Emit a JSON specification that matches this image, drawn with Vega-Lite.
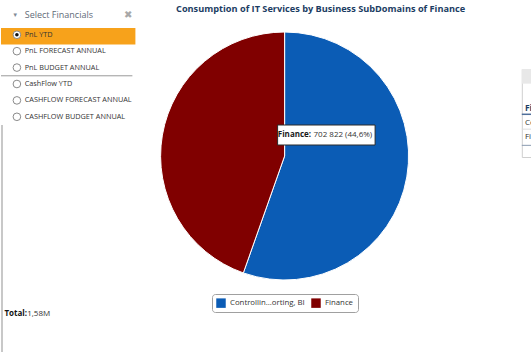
{
  "$schema": "https://vega.github.io/schema/vega-lite/v6.json",
  "padding": 0,
  "background": "#ffffff",
  "config": {"view": {"stroke": null}, "font": "Open Sans", "legend": {"layout": {"bottom": {"anchor": "middle"}}}},
  "datasets": {
    "slices": [
      {"domain": "Controlling, Reporting, BI", "value": 873012},
      {"domain": "Finance", "value": 702822}
    ],
    "menu": [
      {"item": "Select Financials", "kind": "header", "selected": false},
      {"item": "PnL YTD", "kind": "option", "selected": true},
      {"item": "PnL FORECAST ANNUAL", "kind": "option", "selected": false},
      {"item": "PnL BUDGET ANNUAL", "kind": "option", "selected": false},
      {"item": "CashFlow YTD", "kind": "option", "selected": false},
      {"item": "CASHFLOW FORECAST ANNUAL", "kind": "option", "selected": false},
      {"item": "CASHFLOW BUDGET ANNUAL", "kind": "option", "selected": false}
    ],
    "table": [
      {"row": "bar", "label": "", "kind": "bar"},
      {"row": "blank", "label": "", "kind": "blank"},
      {"row": "head", "label": "Finance", "kind": "head"},
      {"row": "r1", "label": "Controlling, Reporting, BI", "kind": "cell"},
      {"row": "r2", "label": "Finance", "kind": "cell"},
      {"row": "end", "label": "", "kind": "end"}
    ]
  },
  "spacing": 0,
  "resolve": {"scale": {"color": "independent"}, "legend": {"color": "independent"}},
  "hconcat": [
    {
      "spacing": 0,
      "resolve": {"scale": {"color": "independent"}, "legend": {"color": "independent"}},
      "vconcat": [
        {
          "width": 134.4,
          "height": 125,
          "data": {"name": "menu"},
          "encoding": {
            "y": {"field": "item", "type": "nominal", "axis": null,
                  "scale": {"domain": ["Select Financials", "PnL YTD", "PnL FORECAST ANNUAL", "PnL BUDGET ANNUAL", "CashFlow YTD", "CASHFLOW FORECAST ANNUAL", "CASHFLOW BUDGET ANNUAL"], "paddingInner": 0, "paddingOuter": 0.31, "align": 1}}
          },
          "layer": [
            {"transform": [{"filter": "datum.selected"}], "mark": {"type": "rect", "fill": "#f7a21b", "xOffset": 0, "x2Offset": 9.1, "yOffset": 1.5, "y2Offset": -1.5}},
            {"transform": [{"filter": "datum.item == 'CashFlow YTD'"}], "mark": {"type": "rule", "stroke": "#9a9a9a", "strokeWidth": 1, "xOffset": -3, "x2Offset": 7.4}, "encoding": {"y": {"field": "item", "type": "nominal", "bandPosition": 0}}},
            {"transform": [{"filter": "datum.kind == 'option'"}], "mark": {"type": "point", "shape": "circle", "size": 58, "filled": true, "fill": "#ffffff", "stroke": "#8a8a8a", "strokeWidth": 1, "opacity": 1, "xOffset": -51.3}},
            {"transform": [{"filter": "datum.selected"}], "mark": {"type": "point", "shape": "circle", "size": 13, "filled": true, "fill": "#111111", "opacity": 1, "xOffset": -51.3}},
            {"transform": [{"filter": "datum.kind == 'option'"}], "mark": {"type": "text", "align": "left", "dx": -43.5, "fontSize": 7.3, "fill": "#333333"}, "encoding": {"text": {"field": "item"}}},
            {"transform": [{"filter": "datum.kind == 'header'"}], "mark": {"type": "text", "align": "left", "dx": -43.5, "dy": -3.6, "fontSize": 9, "fill": "#5f6b78"}, "encoding": {"text": {"field": "item"}}},
            {"transform": [{"filter": "datum.kind == 'header'"}], "mark": {"type": "text", "text": "▼", "align": "center", "dx": -53, "dy": -3.6, "fontSize": 6, "fill": "#7f8a96"}},
            {"transform": [{"filter": "datum.kind == 'header'"}], "mark": {"type": "text", "text": "✖", "align": "center", "dx": 59.5, "dy": -3.6, "fontSize": 10, "fill": "#a8a8a8"}}
          ]
        },
        {
          "width": 134.4,
          "height": 227,
          "data": {"name": "slices"},
          "transform": [
            {"aggregate": [{"op": "sum", "field": "value", "as": "total"}]},
            {"calculate": "replace(format(datum.total, '.3s'), '.', ',')", "as": "totalLabel"}
          ],
          "layer": [
            {"mark": {"type": "rect", "fill": "#c8c8c8", "xOffset": -132.4, "x2Offset": 1}, "encoding": {}},
            {"mark": {"type": "text", "text": "Total:", "align": "right", "dx": -41.2, "dy": 75.5, "fontSize": 8, "fontWeight": "bold", "fill": "#111111"}, "encoding": {}},
            {"mark": {"type": "text", "align": "left", "dx": -41, "dy": 75.5, "fontSize": 8, "fill": "#333333"}, "encoding": {"text": {"field": "totalLabel"}}}
          ]
        }
      ]
    },
    {
      "spacing": 53.8,
      "resolve": {"scale": {"color": "independent"}, "legend": {"color": "independent"}},
      "hconcat": [
        {
          "spacing": 10,
          "resolve": {"scale": {"color": "independent"}, "legend": {"color": "independent"}},
          "vconcat": [
            {
              "width": 297.2,
              "height": 20,
              "data": {"values": [{"title": "Consumption of IT Services by Business SubDomains of Finance"}]},
              "mark": {"type": "text", "align": "center", "dx": 36, "dy": -1, "fontSize": 9.2, "fontWeight": "bold", "fill": "#1c3d63"},
              "encoding": {"text": {"field": "title"}}
            },
            {
              "width": 297.2,
              "height": 248,
              "data": {"name": "slices"},
              "transform": [
                {"joinaggregate": [{"op": "sum", "field": "value", "as": "total"}]},
                {"calculate": "datum.value / datum.total", "as": "share"}
              ],
              "layer": [
                {
                  "mark": {"type": "arc", "stroke": "#ffffff", "strokeWidth": 1},
                  "encoding": {
                    "theta": {"field": "value", "type": "quantitative", "stack": true},
                    "color": {
                      "field": "domain", "type": "nominal",
                      "scale": {"domain": ["Controlling, Reporting, BI", "Finance"], "range": ["#0b5cb5", "#800000"]},
                      "legend": {
                        "orient": "bottom", "direction": "horizontal", "title": null,
                        "symbolType": "square", "symbolSize": 90, "symbolStrokeWidth": 0,
                        "labelFontSize": 7.8, "labelColor": "#333333", "labelLimit": 300,
                        "strokeColor": "#a0a0a0", "cornerRadius": 3, "padding": 4, "offset": 14, "columnPadding": 6,
                        "labelExpr": "datum.label == 'Controlling, Reporting, BI' ? 'Controllin...orting, BI' : datum.label"
                      }
                    }
                  }
                },
                {
                  "transform": [{"filter": "datum.domain == 'Finance'"}],
                  "mark": {"type": "point", "shape": "M-0.14,-0.62H1.81V-0.22H-0.14Z", "size": 10000, "filled": true, "fill": "#ffffff", "stroke": "#2b2b2b", "strokeWidth": 1, "opacity": 1},
                  "encoding": {}
                },
                {
                  "transform": [{"filter": "datum.domain == 'Finance'"}, {"calculate": "datum.domain + ':'", "as": "lbl"}],
                  "mark": {"type": "text", "align": "right", "dx": 26.5, "dy": -21, "fontSize": 8, "fontWeight": "bold", "fill": "#1a1a1a"},
                  "encoding": {"text": {"field": "lbl"}}
                },
                {
                  "transform": [
                    {"filter": "datum.domain == 'Finance'"},
                    {"calculate": "replace(format(datum.value, ',.0f'), ',', ' ') + ' (' + replace(format(datum.share, '.1%'), '.', ',') + ')'", "as": "vlabel"}
                  ],
                  "mark": {"type": "text", "align": "left", "dx": 28.9, "dy": -21, "fontSize": 8, "fill": "#333333"},
                  "encoding": {"text": {"field": "vlabel"}}
                }
              ]
            }
          ]
        },
        {
          "spacing": 67,
          "vconcat": [
            {"width": 10.2, "height": 1, "data": {"values": [{"label": ""}]}, "mark": {"type": "text", "fontSize": 0}, "encoding": {"text": {"field": "label"}}},
            {
              "width": 10.2,
              "height": 88,
              "view": {"stroke": "#cfcfcf"},
              "data": {"name": "table"},
              "encoding": {"y": {"field": "row", "type": "nominal", "axis": null, "scale": {"domain": ["bar", "blank", "head", "r1", "r2", "end"], "paddingInner": 0, "paddingOuter": 0}}},
              "layer": [
                {"transform": [{"filter": "datum.kind == 'bar'"}], "mark": {"type": "rect", "fill": "#e8e8e8", "y2Offset": 2.3}},
                {"transform": [{"filter": "datum.kind == 'head'"}], "mark": {"type": "text", "align": "left", "dx": -2, "dy": 2.3, "fontSize": 8.5, "fontWeight": "bold", "fill": "#1c3d63", "clip": true}, "encoding": {"text": {"field": "label"}}},
                {"transform": [{"filter": "datum.kind == 'head'"}], "mark": {"type": "rule", "stroke": "#4f6f9a", "strokeWidth": 1.5, "yOffset": 1.3}, "encoding": {"y": {"field": "row", "type": "nominal", "bandPosition": 1}}},
                {"transform": [{"filter": "datum.kind == 'cell'"}], "mark": {"type": "text", "align": "left", "dx": -2, "dy": 2.3, "fontSize": 8, "fill": "#333333", "clip": true}, "encoding": {"text": {"field": "label"}}},
                {"transform": [{"filter": "datum.row == 'r1'"}], "mark": {"type": "rule", "stroke": "#dddddd", "yOffset": 1.5}, "encoding": {"y": {"field": "row", "type": "nominal", "bandPosition": 1}}},
                {"transform": [{"filter": "datum.kind == 'end'"}], "mark": {"type": "rule", "stroke": "#8a9ab0", "strokeWidth": 1, "yOffset": 3}, "encoding": {"y": {"field": "row", "type": "nominal", "bandPosition": 0}}}
              ]
            }
          ]
        }
      ]
    }
  ]
}
